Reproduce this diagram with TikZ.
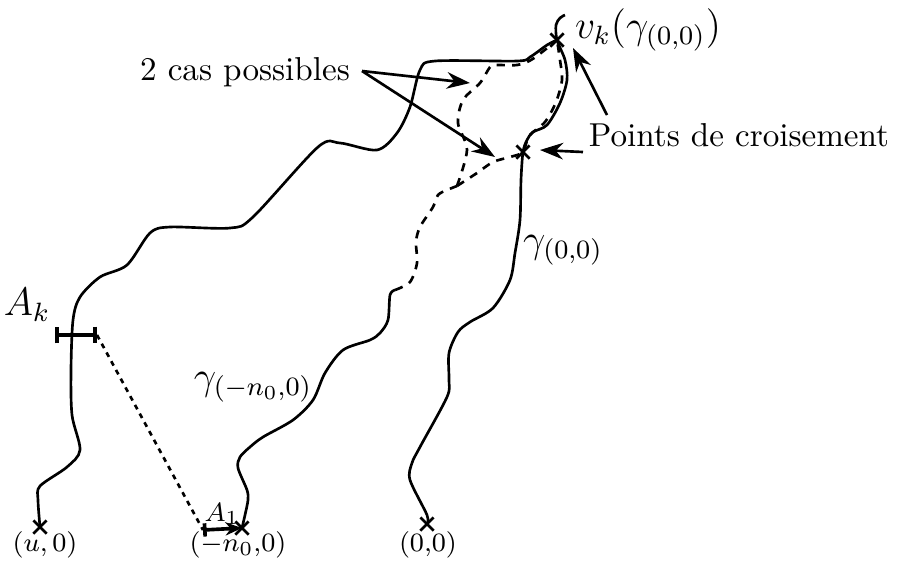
\documentclass[tikz,border=0pt]{standalone}
\usetikzlibrary{arrows.meta,shapes.misc}
\begin{document}
\begin{tikzpicture}[x=0.0106cm,y=-0.0106cm,
  croix/.style={draw,cross out,line width=0.8pt,minimum size=3.2pt,inner sep=0pt},
  chemin/.style={line width=0.8pt,line join=round},
  alt/.style={line width=0.8pt,dash pattern=on 2.5pt off 2.2pt},
  fleche/.style={line width=0.8pt,-{Stealth[length=7pt,width=5pt]}},
  coord/.style={font=\footnotesize,inner sep=1pt}]
\useasboundingbox (0,0) rectangle (897,562);
\node[croix] (u0) at (40,527) {};\node[croix] (n0) at (242,528) {};\node[croix] (o) at (427,524) {};
\node[croix] (vk) at (557,40) {};\node[croix] (cr) at (523,152) {};
\coordinate (fin) at (395,290);\coordinate (bif) at (457,186);
\coordinate (ak1) at (55,335);\coordinate (ak2) at (97,335);\coordinate (a11) at (203,530);
\draw[chemin] plot[smooth,tension=0.5] coordinates {(u0.center) (38,500) (40,486) (67,467) (80,450) (72,415) (71,370) (73,320) (80,297) (100,277) (127,265) (150,233) (170,227) (230,228) (253,217) (318,147) (340,143) (377,150) (397,133) (410,107) (420,70) (435,61) (517,61) (530,57) (547,45) (vk.center)};
\draw[chemin] plot[smooth,tension=0.5] coordinates {(o.center) (427,515) (410,480) (412,463) (420,447) (447,397) (449,380) (449,353) (458,332) (470,322) (493,308) (510,280) (515,253) (520,220) (521,180) (cr.center) (527,140) (533,132) (547,125) (560,103) (567,80) (565,60) (vk.center) (556,25) (560,18) (565,15)};
\draw[chemin] plot[smooth,tension=0.5] coordinates {(n0.center) (245,515) (248,500) (247,490) (238,468) (240,457) (250,447) (263,437) (293,420) (313,400) (325,373) (343,350) (370,340) (380,333) (388,320) (390,295) (fin)};
\draw[alt] plot[smooth,tension=0.5] coordinates {(fin) (410,282) (417,263) (416,242) (420,227) (433,207) (438,195) (447,190) (bif)};
\draw[alt] plot[smooth,tension=0.5] coordinates {(bif) (477,173) (493,162) (510,157) (cr.center) (529,136) (545,122) (556,102) (562,80) (560,60) (vk.center)};
\draw[alt] plot[smooth,tension=0.5] coordinates {(bif) (467,150) (458,123) (463,100) (480,83) (490,67) (495,65) (517,65) (531,60) (546,49) (vk.center)};
\draw[line width=1.2pt,{Bar[width=5pt]}-{Bar[width=5pt]}] (ak1) -- (ak2);
\draw[line width=0.8pt,dash pattern=on 1.5pt off 1.5pt] (ak2) -- (a11);
\draw[line width=1.1pt,{Bar[width=4pt]}-{Stealth[length=5pt,width=4pt]}] (a11) -- (n0.center);
\node (cas) at (245,72) {2 cas possibles};
\node (pts) at (739,135) {Points de croisement};
\node (vkl) at (648,30) {\large $v_k(\gamma_{(0{,}0)})$};
\node (g0) at (563,250) {\large $\gamma_{(0{,}0)}$};
\node (gn) at (253,387) {\large $\gamma_{(-n_0{,}0)}$};
\node (ak) at (27,305) {\large $A_k$};
\node[coord] (lu) at (45,545) {$(u,0)$};\node[coord] (ln) at (238,545) {$(-n_0{,}0)$};\node[coord] (lo) at (428,545) {$(0{,}0)$};
\node[coord] (a1) at (222,514) {$A_1$};
\coordinate (t1) at (470,83);\coordinate (t2) at (495,157);\coordinate (t3) at (540,150);\coordinate (t4) at (573,48);
\draw[fleche] (362,71) -- (t1);\draw[fleche] (362,71) -- (t2);
\draw[fleche] (583,152) -- (t3);\draw[fleche] (607,115) -- (t4);
\end{tikzpicture}
\end{document}
